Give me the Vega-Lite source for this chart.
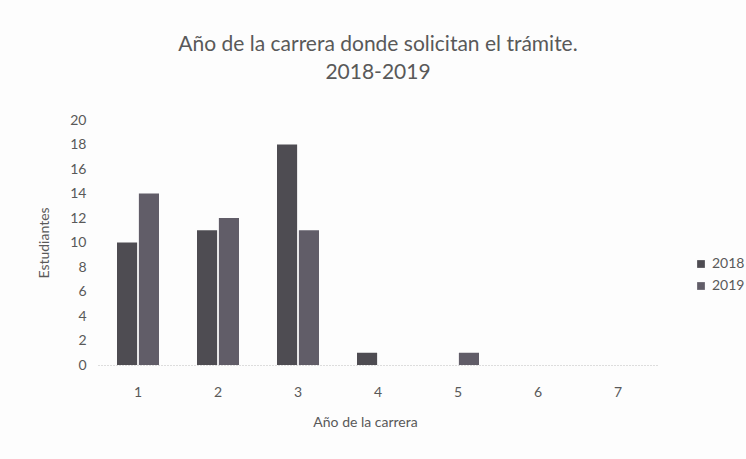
{
  "$schema": "https://vega.github.io/schema/vega-lite/v6.json",
  "width": 560,
  "height": 245,
  "autosize": "none",
  "padding": {"left": 98, "top": 120, "right": 88, "bottom": 94},
  "background": "#fdfdfd",
  "config": {"view": {"stroke": null}, "font": "Lato"},
  "title": {
    "text": ["Año de la carrera donde solicitan el trámite.", "2018-2019"],
    "fontSize": 21,
    "fontWeight": "normal",
    "color": "#595959",
    "font": "Lato",
    "lineHeight": 28,
    "offset": 30,
    "anchor": "middle"
  },
  "data": {
    "values": [
      {"anio": "1", "serie": "2018", "estudiantes": 10},
      {"anio": "1", "serie": "2019", "estudiantes": 14},
      {"anio": "2", "serie": "2018", "estudiantes": 11},
      {"anio": "2", "serie": "2019", "estudiantes": 12},
      {"anio": "3", "serie": "2018", "estudiantes": 18},
      {"anio": "3", "serie": "2019", "estudiantes": 11},
      {"anio": "4", "serie": "2018", "estudiantes": 1},
      {"anio": "4", "serie": "2019", "estudiantes": 0},
      {"anio": "5", "serie": "2018", "estudiantes": 0},
      {"anio": "5", "serie": "2019", "estudiantes": 1},
      {"anio": "6", "serie": "2018", "estudiantes": 0},
      {"anio": "6", "serie": "2019", "estudiantes": 0},
      {"anio": "7", "serie": "2018", "estudiantes": 0},
      {"anio": "7", "serie": "2019", "estudiantes": 0}
    ]
  },
  "mark": {"type": "bar"},
  "encoding": {
    "x": {
      "field": "anio",
      "type": "nominal",
      "scale": {"paddingInner": 0.475, "paddingOuter": 0.2375},
      "axis": {
        "title": "Año de la carrera",
        "titleFontSize": 14,
        "titleFontWeight": "normal",
        "titleColor": "#595959",
        "titlePadding": 16,
        "titleX": 267,
        "labelAngle": 0,
        "labelFontSize": 14,
        "labelColor": "#595959",
        "labelPadding": 20,
        "ticks": false,
        "domainColor": "#bdbdbd",
        "domainDash": [1, 2],
        "domainWidth": 1
      }
    },
    "xOffset": {"field": "serie", "type": "nominal", "scale": {"paddingInner": 0.08}},
    "y": {
      "field": "estudiantes",
      "type": "quantitative",
      "scale": {"domain": [0, 20]},
      "axis": {
        "title": "Estudiantes",
        "titleFontSize": 14,
        "titleFontWeight": "normal",
        "titleColor": "#595959",
        "titlePadding": 18,
        "values": [0, 2, 4, 6, 8, 10, 12, 14, 16, 18, 20],
        "labelFontSize": 14,
        "labelColor": "#595959",
        "labelPadding": 12,
        "ticks": false,
        "domain": false,
        "grid": false
      }
    },
    "color": {
      "field": "serie",
      "type": "nominal",
      "scale": {"domain": ["2018", "2019"], "range": ["#4e4c52", "#615d68"]},
      "legend": {
        "title": null,
        "orient": "none",
        "legendX": 596,
        "legendY": 137,
        "symbolType": "square",
        "symbolSize": 60,
        "labelFontSize": 14,
        "labelColor": "#595959",
        "rowPadding": 8
      }
    }
  }
}
